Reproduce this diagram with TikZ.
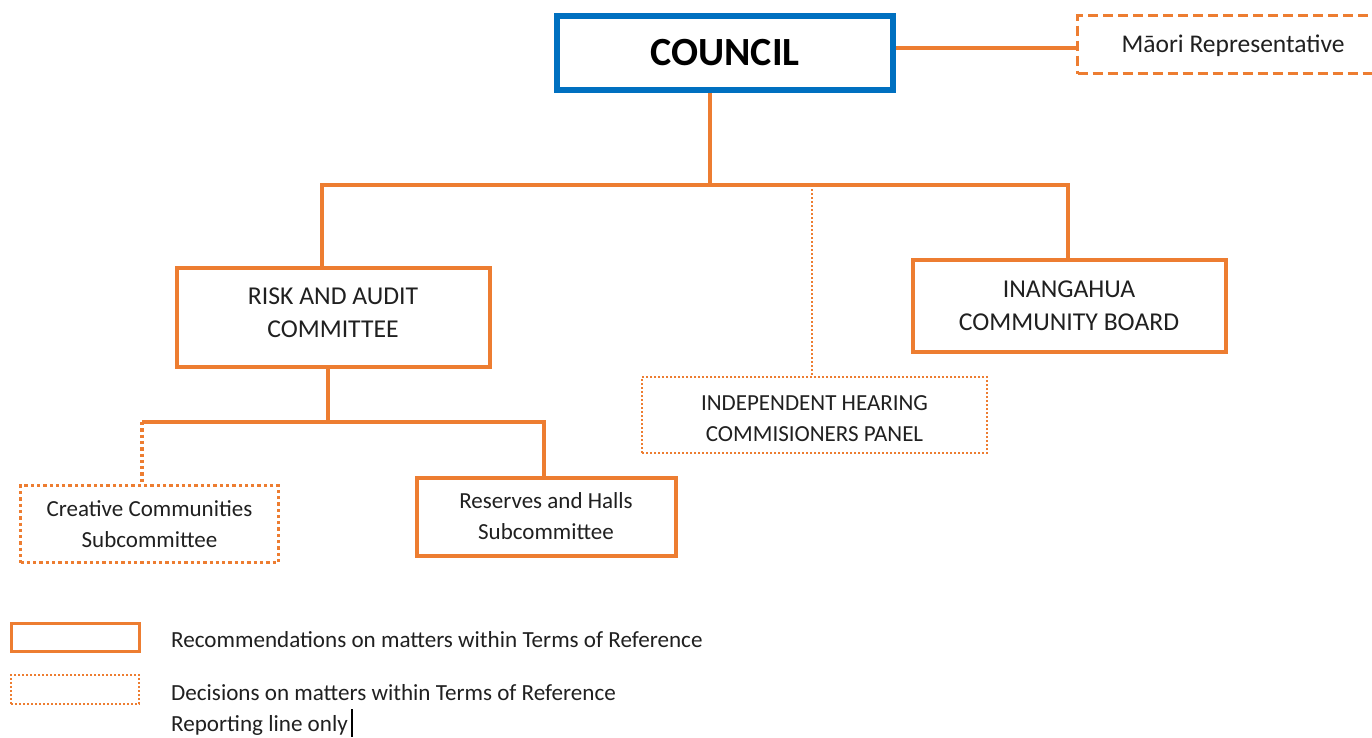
\documentclass[tikz,border=0pt]{standalone}
\usepackage{fontspec}
\setmainfont{Carlito}
\usetikzlibrary{calc}
\definecolor{orgline}{HTML}{ED7D31}
\definecolor{cblue}{HTML}{0070C0}
\definecolor{txt}{HTML}{202020}
\begin{document}
\begin{tikzpicture}[x=1pt,y=-1pt,
  every node/.style={inner sep=0pt, text=txt, align=center},
  bigfont/.style={font=\fontsize{25.7}{33}\selectfont},
  smallfont/.style={font=\fontsize{23}{31}\selectfont},
  legfont/.style={font=\fontsize{23.1}{31}\selectfont},
  solidbox/.style={draw=orgline, line width=4pt, rectangle},
  dashbox/.style={draw=orgline, line width=3.5pt, dash pattern=on 10pt off 5pt},
  dotbox/.style={draw=orgline, line width=3.5pt, dash pattern=on 3.3pt off 3pt},
  finedotbox/.style={draw=orgline, line width=2.5pt, dash pattern=on 2pt off 2pt},
  conn/.style={draw=orgline, line width=3.3pt},
  dotconn/.style={draw=orgline, line width=3.3pt, dash pattern=on 3.3pt off 3pt},
  finedotconn/.style={draw=orgline, line width=2.2pt, dash pattern=on 2pt off 2pt},
]
\useasboundingbox[fill=white] (0,0) rectangle (1372,737);

% top level
\node[draw=cblue, line width=6pt, minimum width=336pt, minimum height=74pt,
      text=black, font=\fontsize{40}{48}\selectfont\bfseries] (council) at (725,53) {COUNCIL};
\node[dashbox, minimum width=311pt, minimum height=58pt] (maori) at (1233,44.5) {};
\node[font=\fontsize{25.5}{31}\selectfont] (maoritext) at ($(maori.center)+(0,1.5)$) {Māori Representative};

% committees
\node[solidbox, minimum width=313pt, minimum height=99pt] (risk) at (333,317) {};
\node[bigfont] (risktext) at ($(risk.center)+(0,-4)$) {RISK AND AUDIT\\COMMITTEE};
\node[solidbox, bigfont, minimum width=313pt, minimum height=92pt] (inang) at (1069,305.5) {INANGAHUA\\COMMUNITY BOARD};
\node[finedotbox, minimum width=345pt, minimum height=76pt] (ihcp) at (814.5,415) {};
\node[smallfont] (ihcptext) at ($(ihcp.center)+(0,3.5)$) {INDEPENDENT HEARING\\COMMISIONERS PANEL};

% subcommittees
\node[dotbox, smallfont, minimum width=258pt, minimum height=77pt] (creative) at (149.5,524) {Creative Communities\\Subcommittee};
\node[solidbox, smallfont, minimum width=259pt, minimum height=78pt] (reserves) at (546,516.5) {Reserves and Halls\\Subcommittee};

% junction points
\coordinate (bus)  at (710,185);
\coordinate (busL) at (322,185);
\coordinate (busM) at (812,185);
\coordinate (busR) at (1068,185);
\coordinate (mr)   at (1000,48);
\coordinate (sub)  at (328,422);
\coordinate (subL) at (142,422);
\coordinate (subR) at (544,422);

% connectors
\draw[conn] (council.east |- mr) -- (maori.west |- mr);
\draw[conn] (bus |- council.south) -- (bus);
\draw[conn] (busL |- risk.north) -- (busL) -- (busR) -- (busR |- inang.north);
\draw[finedotconn] (busM) -- (busM |- ihcp.north);
\draw[conn] (sub |- risk.south) -- (sub);
\draw[conn] (subL) -- (subR) -- (subR |- reserves.north);
\draw[dotconn] (subL) -- (subL |- creative.north);

% legend
\node[draw=orgline, line width=3pt, minimum width=128pt, minimum height=28pt] (legsolid) at (75,637) {};
\node[finedotbox, line width=2pt, minimum width=128pt, minimum height=29pt] (legdot) at (75,689.5) {};
\node[legfont, anchor=base west] (legrec) at (171,647) {Recommendations on matters within Terms of Reference};
\node[legfont, anchor=base west] (legdec) at (171,700) {Decisions on matters within Terms of Reference};
\node[legfont, anchor=base west] (legrep) at (171,731) {Reporting line only};
\draw[black, line width=1.3pt] ($(legrep.base east)+(4,-22)$) -- ($(legrep.base east)+(4,6)$);
\end{tikzpicture}
\end{document}
